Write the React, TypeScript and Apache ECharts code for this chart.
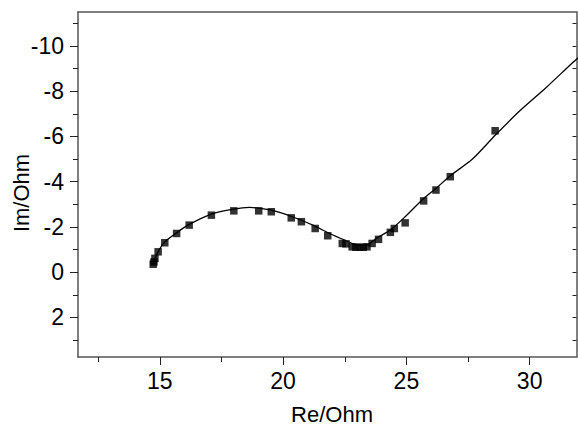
import React, { useEffect, useRef } from "react";
import * as echarts from "echarts";

const pointsRe = [14.73, 14.76, 14.8, 14.93, 15.2, 15.68, 16.19, 17.09, 18.0, 19.01, 19.52, 20.33, 20.74, 21.3, 21.81, 22.4, 22.55, 22.8, 22.95, 23.1, 23.25, 23.4, 23.61, 23.87, 24.35, 24.51, 24.95, 25.7, 26.2, 26.78, 28.6];
const pointsIm = [-0.35, -0.45, -0.61, -0.9, -1.3, -1.71, -2.08, -2.52, -2.71, -2.71, -2.67, -2.4, -2.23, -1.93, -1.61, -1.27, -1.25, -1.12, -1.1, -1.1, -1.1, -1.12, -1.27, -1.45, -1.76, -1.93, -2.18, -3.15, -3.63, -4.22, -6.25];

const fitRe = [14.72, 14.92, 15.2, 15.68, 16.19, 17.09, 18.0, 18.64, 19.0, 19.52, 19.86, 20.37, 21.21, 21.88, 22.49, 22.89, 23.1, 23.39, 23.77, 24.35, 24.95, 25.7, 26.2, 26.78, 27.68, 28.6, 29.57, 30.66, 31.73, 32.0];
const fitIm = [-0.35, -0.88, -1.34, -1.74, -2.11, -2.57, -2.79, -2.86, -2.83, -2.74, -2.64, -2.45, -2.08, -1.71, -1.42, -1.23, -1.18, -1.19, -1.49, -1.86, -2.45, -3.26, -3.7, -4.26, -5.0, -6.05, -7.1, -8.15, -9.25, -9.5];

const xMajorTicks = [15, 20, 25, 30];
const xMinorTicks = [12.5, 17.5, 22.5, 27.5];
const yMajorTicks = [-10, -8, -6, -4, -2, 0, 2];
const yMinorTicks = [-11, -9, -7, -5, -3, -1, 1, 3];
const yAllTicks = [-11, -10, -9, -8, -7, -6, -5, -4, -3, -2, -1, 0, 1, 2, 3];

const X_MIN = 11.68;
const X_MAX = 31.9;
const Y_MIN = -11.5;
const Y_MAX = 3.75;

export default function App() {
  const ref = useRef<HTMLDivElement>(null);
  useEffect(() => {
    if (!ref.current) return;
    const chart = echarts.init(ref.current, undefined, { renderer: "svg" });
    const font = "'Liberation Sans', Arial, sans-serif";
    const lineColor = "#555";
    const baseX = { type: "value", min: X_MIN, max: X_MAX, splitLine: { show: false } };
    const baseY = { type: "value", min: Y_MIN, max: Y_MAX, inverse: true, splitLine: { show: false } };
    chart.setOption({
      animation: false,
      backgroundColor: "#fff",
      grid: { left: 78, right: 1.5, top: 12, bottom: 71 },
      xAxis: [
        {
          ...baseX,
          position: "bottom",
          axisLine: { show: true, onZero: false, lineStyle: { color: lineColor, width: 1.5 } },
          axisTick: { show: true, customValues: xMajorTicks, length: 8, lineStyle: { color: "#222" } },
          axisLabel: { show: true, customValues: xMajorTicks, margin: 12, fontSize: 23, fontFamily: font, color: "#000" },
        },
        {
          ...baseX,
          position: "bottom",
          axisLine: { show: false, onZero: false },
          axisTick: { show: true, customValues: xMinorTicks, length: 5, lineStyle: { color: "#222" } },
          axisLabel: { show: false },
        },
        {
          ...baseX,
          position: "top",
          axisLine: { show: true, onZero: false, lineStyle: { color: lineColor, width: 1.5 } },
          axisTick: { show: false },
          axisLabel: { show: false },
        },
      ],
      yAxis: [
        {
          ...baseY,
          position: "left",
          axisLine: { show: true, onZero: false, lineStyle: { color: lineColor, width: 1.5 } },
          axisTick: { show: true, customValues: yMajorTicks, length: 8, lineStyle: { color: "#222" } },
          axisLabel: { show: true, customValues: yMajorTicks, margin: 14, fontSize: 23, fontFamily: font, color: "#000" },
        },
        {
          ...baseY,
          position: "left",
          axisLine: { show: false, onZero: false },
          axisTick: { show: true, customValues: yMinorTicks, length: 5, lineStyle: { color: "#222" } },
          axisLabel: { show: false },
        },
        {
          ...baseY,
          position: "right",
          axisLine: { show: true, onZero: false, lineStyle: { color: lineColor, width: 1.5 } },
          axisTick: { show: true, inside: true, customValues: yAllTicks, length: 4, lineStyle: { color: "#222" } },
          axisLabel: { show: false },
        },
      ],
      graphic: [
        {
          type: "text",
          x: 332,
          y: 414,
          style: { text: "Re/Ohm", font: `22px ${font}`, fill: "#000", align: "center", verticalAlign: "middle" },
        },
        {
          type: "text",
          x: 21,
          y: 193,
          rotation: Math.PI / 2,
          style: { text: "Im/Ohm", font: `22px ${font}`, fill: "#000", align: "center", verticalAlign: "middle" },
        },
      ],
      series: [
        {
          type: "line",
          xAxisIndex: 0,
          yAxisIndex: 0,
          data: fitRe.map((x, i) => [x, fitIm[i]]),
          showSymbol: false,
          smooth: 0.25,
          clip: true,
          lineStyle: { color: "#000", width: 1.3 },
        },
        {
          type: "scatter",
          xAxisIndex: 0,
          yAxisIndex: 0,
          data: pointsRe.map((x, i) => [x, pointsIm[i]]),
          symbol: "rect",
          symbolSize: 7.5,
          itemStyle: { color: "#000" },
        },
      ],
    });
    return () => chart.dispose();
  }, []);
  return <div ref={ref} style={{ position: "fixed", left: 0, top: 0, width: 578, height: 428, background: "#fff" }} />;
}
